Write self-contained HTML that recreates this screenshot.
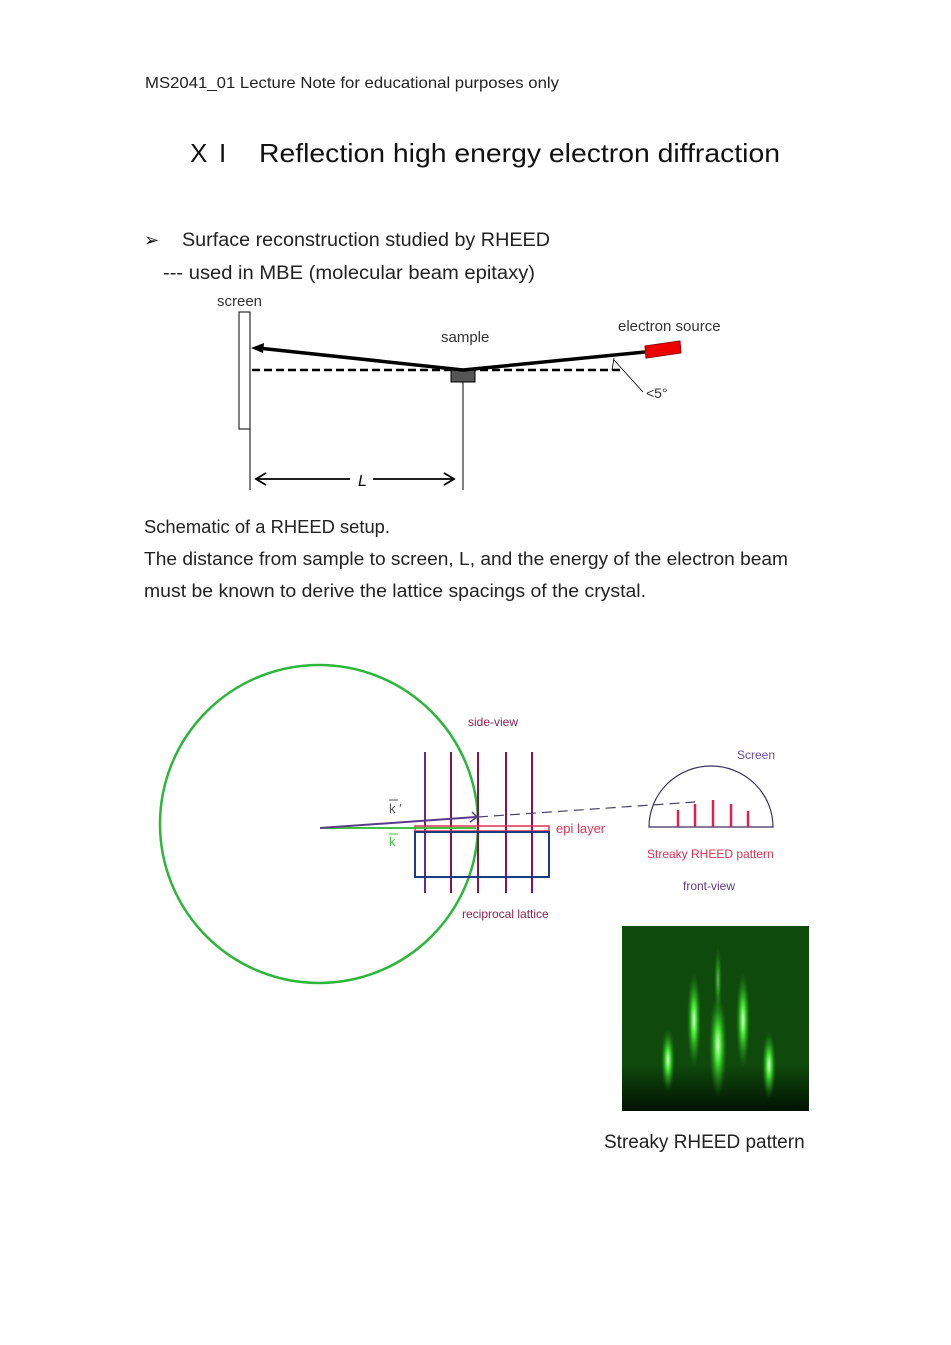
<!DOCTYPE html>
<html><head><meta charset="utf-8"><style>
html,body{margin:0;padding:0;background:#fff}
svg{display:block}
text{font-family:"Liberation Sans",sans-serif}
</style></head><body>
<svg width="951" height="1345" viewBox="0 0 951 1345" xmlns="http://www.w3.org/2000/svg">
<defs>
<radialGradient id="st" cx="0.5" cy="0.5" r="0.5"><stop offset="0" stop-color="#e0ffd8"/><stop offset="0.35" stop-color="#40e030"/><stop offset="1" stop-color="#1a7a10" stop-opacity="0"/></radialGradient>
<linearGradient id="bg" x1="0" y1="0" x2="0" y2="1"><stop offset="0" stop-color="#0e4a0c"/><stop offset="0.75" stop-color="#0f4a0c"/><stop offset="1" stop-color="#021202"/></linearGradient>
</defs>
<text x="145" y="88" font-size="16" fill="#222" textLength="414" lengthAdjust="spacingAndGlyphs">MS2041_01 Lecture Note for educational purposes only</text>
<text x="190" y="162" font-size="26" fill="#111">X</text>
<text x="219" y="162" font-size="26" fill="#111">I</text>
<text x="259" y="162" font-size="26" fill="#111" textLength="521" lengthAdjust="spacingAndGlyphs">Reflection high energy electron diffraction</text>
<text x="144" y="246" font-size="18" fill="#111">➢</text>
<text x="182" y="246" font-size="19" fill="#222" textLength="368" lengthAdjust="spacingAndGlyphs">Surface reconstruction studied by RHEED</text>
<text x="163" y="279" font-size="19" fill="#222" textLength="372" lengthAdjust="spacingAndGlyphs">--- used in MBE (molecular beam epitaxy)</text>
<!-- top diagram -->
<text x="217" y="306" font-size="15" fill="#333">screen</text>
<rect x="239" y="312" width="11" height="117" fill="#fff" stroke="#000" stroke-width="1"/>
<line x1="250" y1="312" x2="250" y2="490" stroke="#000"/>
<text x="441" y="342" font-size="15" fill="#333">sample</text>
<text x="618" y="331" font-size="15" fill="#333">electron source</text>
<line x1="252" y1="370" x2="622" y2="370" stroke="#000" stroke-width="2.5" stroke-dasharray="8,4"/>
<rect x="451" y="370" width="24" height="12" fill="#555" stroke="#000" stroke-width="1"/>
<line x1="463" y1="382" x2="463" y2="490" stroke="#000"/>
<polyline points="645,352 463,370 258,348" fill="none" stroke="#000" stroke-width="3.5"/>
<polygon points="251,348 264,343 263,353" fill="#000"/>
<polygon points="645,346 680,341 681,353 646,358" fill="#e00" stroke="#900"/>
<line x1="614" y1="360" x2="643" y2="392" stroke="#000" stroke-width="0.8"/>
<path d="M614,358 L612,370" fill="none" stroke="#000" stroke-width="0.8"/>
<text x="646" y="398" font-size="14" fill="#333">&lt;5°</text>
<line x1="256" y1="479" x2="350" y2="479" stroke="#000" stroke-width="1.8"/>
<line x1="373" y1="479" x2="454" y2="479" stroke="#000" stroke-width="1.8"/>
<polyline points="266,473 256,479 266,485" fill="none" stroke="#000" stroke-width="1.8"/>
<polyline points="444,473 454,479 444,485" fill="none" stroke="#000" stroke-width="1.8"/>
<text x="358" y="486" font-size="16" font-style="italic" fill="#000">L</text>
<text x="144" y="533" font-size="18" fill="#222" textLength="246" lengthAdjust="spacingAndGlyphs">Schematic of a RHEED setup.</text>
<text x="144" y="565" font-size="18" fill="#222" textLength="644" lengthAdjust="spacingAndGlyphs">The distance from sample to screen, L, and the energy of the electron beam</text>
<text x="144" y="597" font-size="18" fill="#222" textLength="502" lengthAdjust="spacingAndGlyphs">must be known to derive the lattice spacings of the crystal.</text>
<!-- bottom diagram -->
<circle cx="319" cy="824" r="159" fill="none" stroke="#2cb63a" stroke-width="2.5"/>
<text x="468" y="726" font-size="12" fill="#8a2050">side-view</text>
<g stroke="#8a1050" stroke-width="2">
<line x1="425" y1="752" x2="425" y2="893" stroke="#6a2a80"/>
<line x1="451" y1="752" x2="451" y2="893"/>
<line x1="478" y1="752" x2="478" y2="893"/>
<line x1="506" y1="752" x2="506" y2="893"/>
<line x1="532" y1="752" x2="532" y2="893"/>
</g>
<rect x="415" y="826" width="134" height="5" fill="none" stroke="#e03050" stroke-width="1.5"/>
<rect x="415" y="832" width="134" height="45" fill="none" stroke="#203a80" stroke-width="2"/>
<line x1="320" y1="828" x2="476" y2="828" stroke="#40c040" stroke-width="2"/>
<line x1="320" y1="828" x2="476" y2="817" stroke="#5a3a8a" stroke-width="2"/>
<polyline points="470,822 477,817 472,812" fill="none" stroke="#5a3a8a" stroke-width="1.5"/>
<line x1="478" y1="817" x2="695" y2="802" stroke="#444466" stroke-width="1.2" stroke-dasharray="10,6"/>
<text x="389" y="813" font-size="13" fill="#555">k ′</text>
<line x1="389" y1="800" x2="398" y2="800" stroke="#555"/>
<text x="389" y="846" font-size="13" fill="#40c040">k</text>
<line x1="389" y1="834" x2="398" y2="834" stroke="#40c040"/>
<text x="556" y="833" font-size="13" fill="#e03050">epi layer</text>
<text x="462" y="918" font-size="12" fill="#8a2050">reciprocal lattice</text>
<text x="737" y="759" font-size="12" fill="#6a4a9a">Screen</text>
<path d="M649,827 A62,61 0 0 1 773,827 Z" fill="none" stroke="#3a3060" stroke-width="1.2"/>
<g stroke="#e02050" stroke-width="2.5">
<line x1="678" y1="827" x2="678" y2="810"/>
<line x1="695" y1="827" x2="695" y2="804"/>
<line x1="713" y1="827" x2="713" y2="800"/>
<line x1="731" y1="827" x2="731" y2="804"/>
<line x1="748" y1="827" x2="748" y2="811"/>
</g>
<text x="647" y="858" font-size="12" fill="#e03050">Streaky RHEED pattern</text>
<text x="683" y="890" font-size="12" fill="#5a3a8a">front-view</text>
<rect x="622" y="926" width="187" height="185" fill="url(#bg)"/>
<ellipse cx="668" cy="1060" rx="7" ry="32" fill="url(#st)"/>
<ellipse cx="694" cy="1020" rx="7" ry="48" fill="url(#st)"/>
<ellipse cx="718" cy="1045" rx="9" ry="52" fill="url(#st)"/>
<ellipse cx="743" cy="1020" rx="7" ry="48" fill="url(#st)"/>
<ellipse cx="769" cy="1065" rx="7" ry="34" fill="url(#st)"/>
<ellipse cx="718" cy="980" rx="4" ry="35" fill="url(#st)" opacity="0.5"/>
<text x="604" y="1148" font-size="19" fill="#222">Streaky RHEED pattern</text>
</svg>
</body></html>
